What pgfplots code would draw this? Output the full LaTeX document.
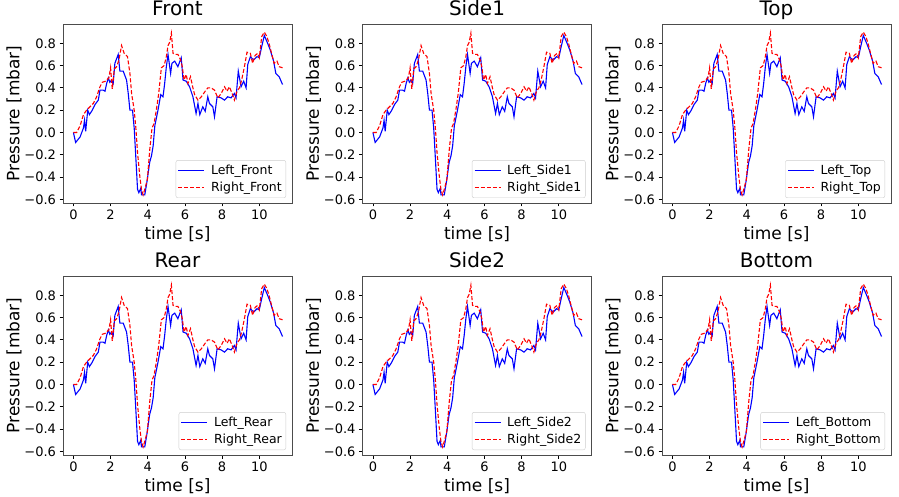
\documentclass[border=0pt]{standalone}
\usepackage{fontspec}
\setmainfont{DejaVu Sans}
\usepackage{pgfplots}
\pgfplotsset{compat=1.18}
\usepackage{pgfplotstable}

% Pressure traces (time in s, pressure in mbar)
\pgfplotstableread{
t p
0.00 0.00
0.12 -0.09
0.36 -0.04
0.54 0.04
0.60 0.11
0.66 0.01
0.77 0.20
0.86 0.16
0.98 0.19
1.16 0.25
1.34 0.29
1.43 0.38
1.60 0.38
1.70 0.37
1.79 0.44
1.88 0.49
1.96 0.45
2.05 0.47
2.14 0.44
2.23 0.62
2.41 0.70
2.50 0.55
2.68 0.55
2.86 0.47
2.95 0.35
3.04 0.20
3.18 0.20
3.27 0.04
3.34 -0.17
3.45 -0.51
3.52 -0.54
3.63 -0.50
3.66 -0.56
3.84 -0.56
3.96 -0.44
4.10 -0.27
4.20 -0.21
4.29 -0.12
4.38 0.06
4.55 0.20
4.70 0.34
4.82 0.32
4.91 0.44
5.00 0.59
5.09 0.70
5.23 0.53
5.30 0.62
5.45 0.64
5.62 0.59
5.80 0.67
5.90 0.47
6.07 0.46
6.25 0.41
6.43 0.32
6.60 0.17
6.70 0.26
6.80 0.16
6.96 0.23
7.09 0.19
7.23 0.32
7.32 0.26
7.50 0.23
7.59 0.14
7.73 0.32
7.95 0.31
8.13 0.29
8.30 0.32
8.48 0.31
8.66 0.35
8.75 0.31
8.87 0.55
9.02 0.41
9.16 0.46
9.29 0.40
9.38 0.61
9.52 0.68
9.70 0.65
9.88 0.68
10.00 0.67
10.13 0.77
10.27 0.87
10.45 0.80
10.59 0.74
10.77 0.64
10.89 0.53
11.07 0.50
11.25 0.43
}\leftdata

\pgfplotstableread{
t p
0.00 0.00
0.18 0.00
0.36 0.06
0.54 0.16
0.71 0.20
0.89 0.23
1.07 0.26
1.25 0.32
1.43 0.41
1.55 0.45
1.73 0.46
1.91 0.49
2.00 0.58
2.09 0.39
2.20 0.57
2.32 0.59
2.45 0.65
2.59 0.78
2.73 0.71
2.91 0.68
3.04 0.53
3.13 0.35
3.27 0.20
3.36 0.04
3.45 -0.18
3.57 -0.39
3.66 -0.51
3.75 -0.56
3.84 -0.51
3.98 -0.42
4.11 -0.15
4.23 0.04
4.34 0.08
4.46 0.20
4.59 0.35
4.73 0.58
4.88 0.60
5.00 0.68
5.09 0.78
5.18 0.81
5.27 0.89
5.36 0.71
5.48 0.70
5.62 0.70
5.77 0.65
5.86 0.59
5.95 0.47
6.07 0.52
6.16 0.44
6.30 0.50
6.43 0.40
6.52 0.34
6.70 0.29
6.88 0.32
7.09 0.37
7.23 0.40
7.41 0.40
7.59 0.38
7.77 0.31
7.95 0.35
8.13 0.41
8.27 0.37
8.39 0.41
8.54 0.35
8.66 0.29
8.80 0.37
8.93 0.40
9.05 0.47
9.20 0.59
9.34 0.72
9.52 0.71
9.64 0.62
9.77 0.69
9.91 0.71
10.00 0.67
10.13 0.86
10.27 0.90
10.41 0.86
10.54 0.79
10.66 0.71
10.80 0.62
10.95 0.64
11.07 0.59
11.25 0.58
}\rightdata

% line styles of the two sensors
\tikzset{
  leftline/.style={blue, line width=1.1pt},
  rightline/.style={red, line width=1.1pt, dash pattern=on 4pt off 2pt},
}

\pgfplotsset{
  panel/.style={
    anchor=south west,
    scale only axis,
    width=229pt, height=179pt,
    xmin=-0.56, xmax=11.76,
    ymin=-0.633, ymax=0.973,
    xtick={0,2,4,6,8,10},
    xticklabels={0,2,4,6,8,10},
    ytick={-0.6,-0.4,-0.2,0,0.2,0.4,0.6,0.8},
    yticklabels={−0.6,−0.4,−0.2,0.0,0.2,0.4,0.6,0.8},
    tick align=outside, tick pos=left,
    major tick length=3.5pt,
    tick style={black, line width=0.8pt},
    axis line style={black!70, line width=0.8pt},
    tick label style={font=\fontsize{13}{15}\selectfont},
    label style={font=\fontsize{17}{20}\selectfont},
    ylabel shift=-4pt,
    title style={font=\fontsize{20}{24}\selectfont, at={(0.5,1)}, anchor=base, yshift=3pt},
    xlabel={time [s]}, ylabel={Pressure [mbar]},
    legend cell align=left,
    legend style={
      at={(1,0)}, anchor=south east, xshift=-6pt, yshift=5pt,
      font=\fontsize{12.5}{15}\selectfont,
      draw=black!20, rounded corners=2pt, fill=white,
      inner xsep=2pt, inner ysep=2.5pt, row sep=2.5pt,
      column sep=4pt,
    },
  },
}

\newcommand\panel[3]{%
  \begin{axis}[panel, at={(#1pt,#2pt)}, title={#3}]
    \addplot[leftline,
      legend image code/.code={\draw[leftline] (0pt,0pt) -- (26pt,0pt);}]
      table[x=t, y=p]{\leftdata};
    \addlegendentry{Left\_#3}
    \addplot[rightline,
      legend image code/.code={\draw[rightline] (0pt,0pt) -- (26pt,0pt);}]
      table[x=t, y=p]{\rightdata};
    \addlegendentry{Right\_#3}
  \end{axis}%
}

\begin{document}
\begin{tikzpicture}
  \useasboundingbox (0,0) rectangle (899pt,496pt);
  \panel{63}{293}{Front}
  \panel{362.5}{293}{Side1}
  \panel{662}{293}{Top}
  \panel{63}{41}{Rear}
  \panel{362.5}{41}{Side2}
  \panel{662}{41}{Bottom}
\end{tikzpicture}
\end{document}
